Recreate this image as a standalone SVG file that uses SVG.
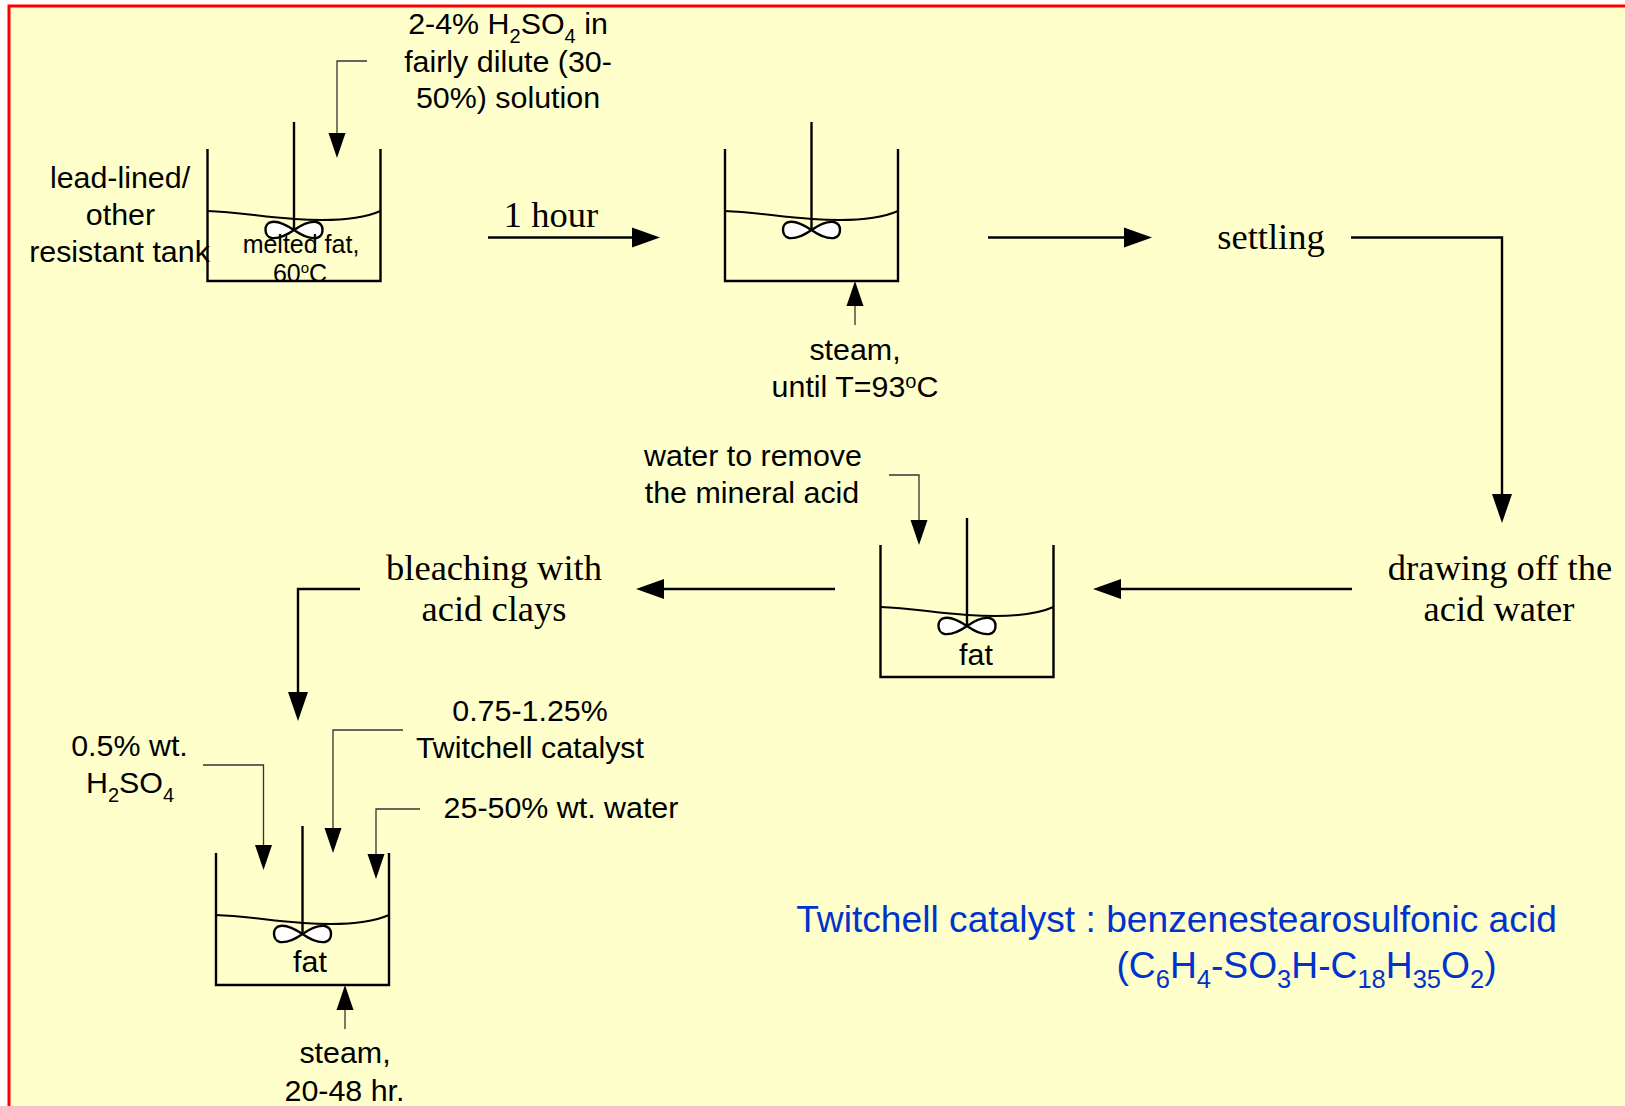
<svg xmlns="http://www.w3.org/2000/svg" width="1625" height="1106" viewBox="0 0 1625 1106">
<style>
text{font-family:"Liberation Sans",Arial,sans-serif;font-size:30.400px;fill:#000;text-anchor:middle}
.s{font-family:"Liberation Serif","Times New Roman",serif;font-size:36.500px}
.small{font-size:25px}
.b{fill:#0033cc;font-size:37.200px}
.thin{fill:none;stroke:#333;stroke-width:1.3}
.flow{fill:none;stroke:#000;stroke-width:2.4}
.wall{fill:none;stroke:#000;stroke-width:2.4}
.surf{fill:none;stroke:#000;stroke-width:2}
.imp{fill:#fff;stroke:#000;stroke-width:2.400}
</style>
<defs>
<g id="tank">
<path class="wall" d="M0 0V132H173V0"/>
<path class="wall" d="M86.500 -27V81"/>
<path class="surf" d="M0 62C30 63 55 68 87 70C115 72 150 72 173 62"/>
<path class="imp" d="M86.500 81C76 74 68 72 64 73C56 74 56 87 64 89C71 90 78 87 86.500 81C95 75 102 72 109 73C117 75 117 87 109 89C102 90 95 87 86.500 81Z"/>
</g>
<polygon id="ad" points="-8.500,-25 8.500,-25 0,0"/>
</defs>
<rect width="1625" height="1106" fill="#fff"/>
<rect x="9" y="6" width="1640" height="1130" fill="#ffffcc" stroke="#ff0000" stroke-width="3"/>

<g id="connectors">
<path class="thin" d="M367 61H337V135"/><use href="#ad" x="337" y="158"/>
<path class="flow" d="M488 237.500H640"/><polygon points="660,237.500 632,227.500 632,247.500"/>
<path class="flow" d="M988 237.500H1125"/><polygon points="1152,237.500 1124,227.500 1124,247.500"/>
<path class="flow" d="M1351 237.500H1502V495"/><polygon points="1502,523 1492,494 1512,494"/>
<path class="flow" d="M1352 589H1120"/><polygon points="1093,589 1121,579 1121,599"/>
<path class="flow" d="M835 589H663"/><polygon points="636,589 664,579 664,599"/>
<path class="flow" d="M360 589H298V695"/><polygon points="298,721 288,692 308,692"/>
<path class="thin" d="M855 325V303"/><polygon points="855,281 846.500,306 863.500,306"/>
<path class="thin" d="M889 475H919V520"/><use href="#ad" x="919" y="545"/>
<path class="thin" d="M203 765H263.500V850"/><use href="#ad" x="263.500" y="870"/>
<path class="thin" d="M403 730H333V830"/><use href="#ad" x="333" y="853"/>
<path class="thin" d="M420 809H376V860"/><use href="#ad" x="376" y="879"/>
<path class="thin" d="M345 1029V1008"/><polygon points="345,985 336.500,1010 353.500,1010"/>
</g>

<g id="tank1"><use href="#tank" x="207.500" y="149"/><text class="small" x="301" y="253">melted fat,</text><text class="small" x="300" y="282">60<tspan font-size="15" dy="-9">o</tspan><tspan dy="9">C</tspan></text></g>
<g id="tank2"><use href="#tank" x="725" y="149"/></g>
<g id="tank3"><use href="#tank" x="880.500" y="545"/><text x="976" y="665">fat</text></g>
<g id="tank4"><use href="#tank" x="216" y="853"/><text x="310" y="972">fat</text></g>

<g id="label-acid"><text x="508" y="34">2-4% H<tspan font-size="20" dy="9">2</tspan><tspan dy="-9">SO</tspan><tspan font-size="20" dy="9">4</tspan><tspan dy="-9"> in</tspan></text><text x="508" y="72">fairly dilute (30-</text><text x="508" y="108">50%) solution</text></g>
<g id="label-tank"><text x="120" y="188">lead-lined/</text><text x="120.500" y="225">other</text><text x="119.500" y="262">resistant tank</text></g>
<g id="label-hour"><text class="s" x="551" y="227">1 hour</text></g>
<g id="label-steam1"><text x="855" y="360">steam,</text><text x="855" y="397">until T=93<tspan font-size="20" dy="-9">o</tspan><tspan dy="9">C</tspan></text></g>
<g id="label-settling"><text class="s" x="1271" y="249">settling</text></g>
<g id="label-water"><text x="753" y="466">water to remove</text><text x="752" y="503">the mineral acid</text></g>
<g id="label-drawing"><text class="s" x="1500" y="580">drawing off the</text><text class="s" x="1499" y="621">acid water</text></g>
<g id="label-bleaching"><text class="s" x="494" y="580">bleaching with</text><text class="s" x="494" y="621">acid clays</text></g>
<g id="label-cat"><text x="530" y="721">0.75-1.25%</text><text x="530" y="758">Twitchell catalyst</text></g>
<g id="label-h2so4"><text x="129.500" y="756">0.5% wt.</text><text x="130" y="793">H<tspan font-size="20" dy="9">2</tspan><tspan dy="-9">SO</tspan><tspan font-size="20" dy="9">4</tspan></text></g>
<g id="label-w"><text x="561" y="818">25-50% wt. water</text></g>
<g id="label-steam2"><text x="345" y="1063">steam,</text><text x="344.500" y="1101">20-48 hr.</text></g>
<g id="label-note"><text class="b" x="1176.500" y="932">Twitchell catalyst : benzenestearosulfonic acid</text><text class="b" x="1306.500" y="978">(C<tspan font-size="25.500" dy="10">6</tspan><tspan dy="-10">H</tspan><tspan font-size="25.500" dy="10">4</tspan><tspan dy="-10">-SO</tspan><tspan font-size="25.500" dy="10">3</tspan><tspan dy="-10">H-C</tspan><tspan font-size="25.500" dy="10">18</tspan><tspan dy="-10">H</tspan><tspan font-size="25.500" dy="10">35</tspan><tspan dy="-10">O</tspan><tspan font-size="25.500" dy="10">2</tspan><tspan dy="-10">)</tspan></text></g>
</svg>
